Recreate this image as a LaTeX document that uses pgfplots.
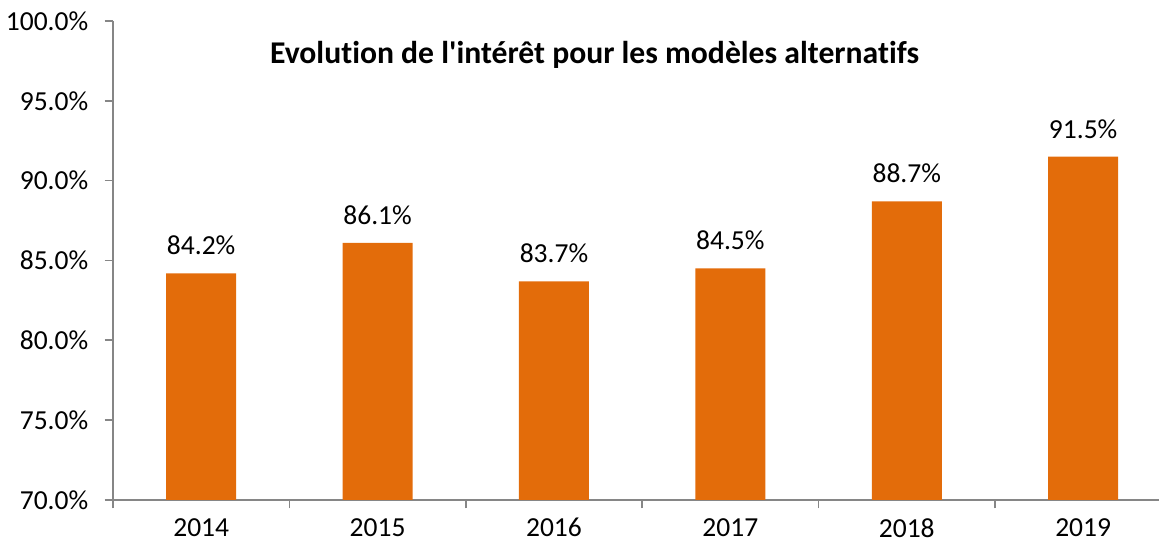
\documentclass[border=0pt]{standalone}
\usepackage{pgfplots}
\pgfplotsset{compat=1.18}
\usepackage{fontspec}
\setmainfont[Ligatures={NoCommon,TeXOff}]{Carlito}
\definecolor{barorange}{HTML}{E36C0A}
\definecolor{axisgray}{HTML}{868686}
\begin{document}
\begin{tikzpicture}[x=1pt,y=1pt]
\begin{axis}[
  name=ax,
  scale only axis,
  width=627.6pt, height=287.4pt,
  xmin=-0.5, xmax=5.43,
  ymin=70, ymax=100,
  ytick={70,75,...,100},
  yticklabel={\pgfmathprintnumber[fixed,fixed zerofill,precision=1]{\tick}\%},
  /pgf/number format/assume math mode=true,
  xtick={0,...,5},
  xticklabels={2014,2015,2016,2017,2018,2019},
  minor xtick={-0.5,0.5,...,4.5},
  major x tick style={draw=none},
  minor tick length=5pt,
  major tick length=5pt,
  tick align=outside,
  axis x line*=bottom,
  axis y line*=left,
  axis line style={axisgray, line width=1pt},
  tick style={axisgray, line width=1pt},
  y axis line style={-},
  x axis line style={-},
  tick label style={font=\fontsize{16.5}{20}\selectfont, black},
  xticklabel style={yshift=-2.4pt},
  yticklabel style={xshift=-6.3pt},
  ybar,
  bar width=42pt,
  bar shift=0pt,
  nodes near coords={\pgfmathprintnumber[fixed,fixed zerofill,precision=1]{\pgfplotspointmeta}\%},
  nodes near coords style={font=\fontsize{16.5}{20}\selectfont, black, yshift=7.5pt},
  clip=false,
]
\addplot[fill=barorange, draw=none] coordinates {(0,84.2) (1,86.1) (2,83.7) (3,84.5) (4,88.7) (5,91.5)};
\node[font=\bfseries\fontsize{19}{22}\selectfont] at (axis cs:2.23,97.87) {Evolution de l'intérêt pour les modèles alternatifs};
\end{axis}
\pgfresetboundingbox
\path[use as bounding box] ([xshift=-67.8pt,yshift=-26.4pt]ax.south west) rectangle ++(696pt,326.4pt);
\end{tikzpicture}
\end{document}
